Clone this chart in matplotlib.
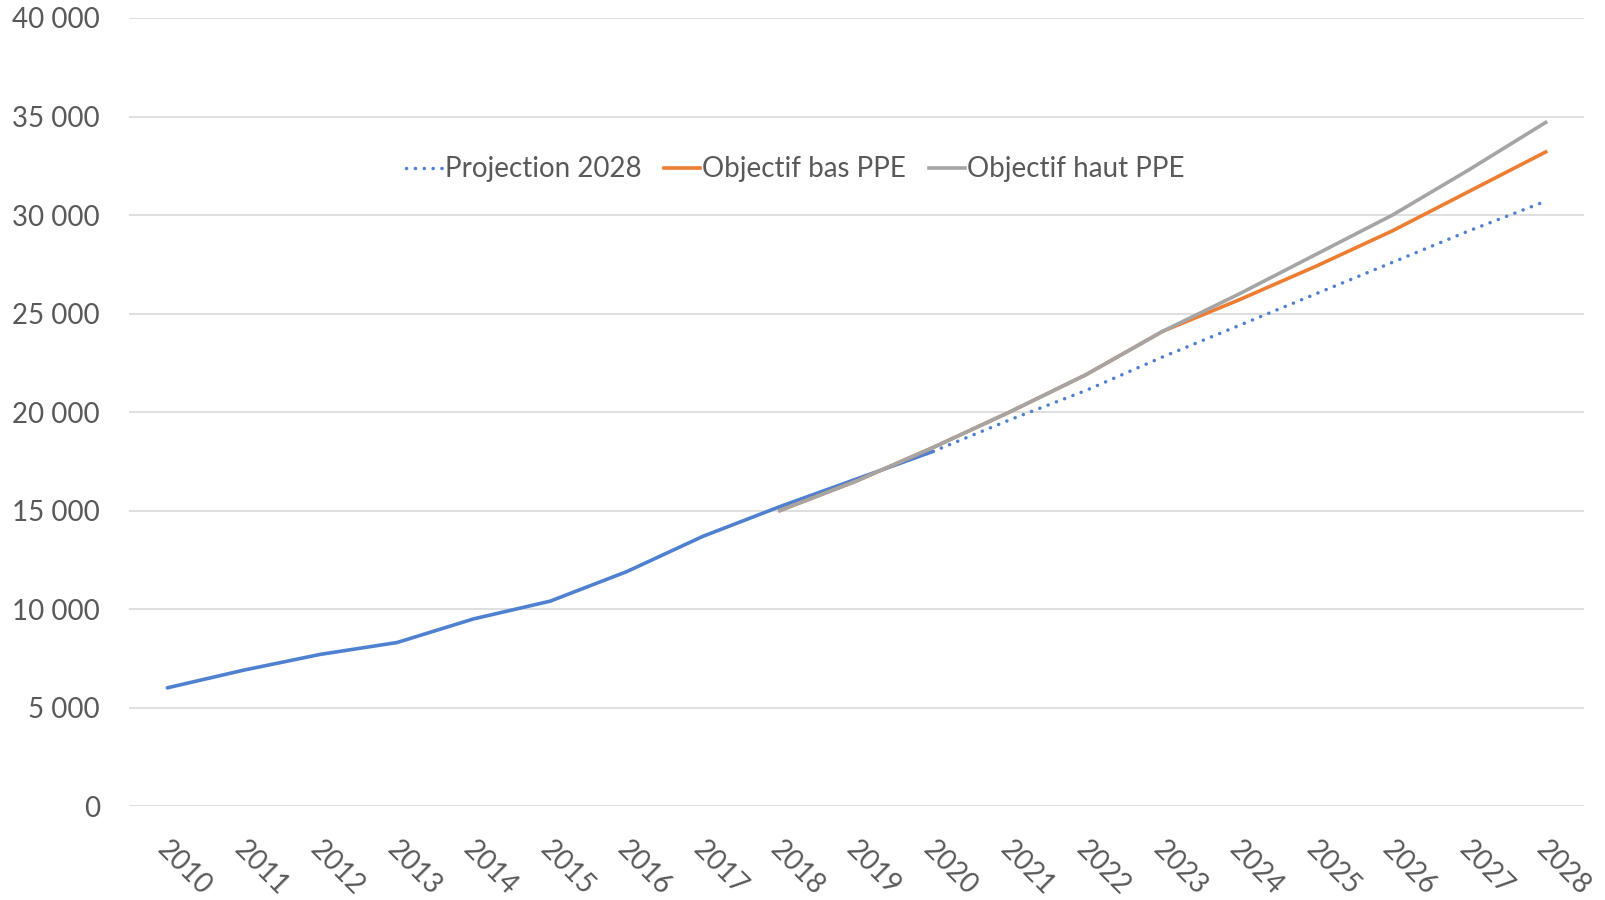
import matplotlib.pyplot as plt
from matplotlib.ticker import FuncFormatter
from matplotlib.transforms import ScaledTranslation

plt.rcParams['font.family'] = ['Lato', 'DejaVu Sans']

years = list(range(2010, 2029))

# historique 2010-2020
hist_years = list(range(2010, 2021))
hist_vals = [6000, 6900, 7700, 8300, 9500, 10400, 11900, 13700, 15200, 16600, 18000]

# projection tendancielle
proj_years = list(range(2020, 2029))
proj_vals = [18000, 19600, 21100, 22800, 24400, 26000, 27600, 29200, 30700]

# objectifs PPE
ppe_years = list(range(2018, 2029))
bas_vals = [15000, 16500, 18200, 20000, 21900, 24100, 25700, 27400, 29200, 31200, 33200]
haut_vals = [15000, 16500, 18200, 20000, 21900, 24100, 26000, 28000, 30000, 32300, 34700]

yticks = list(range(0, 40001, 5000))

text_col = '#595959'
grid_col = '#d9d9d9'

fig = plt.figure(figsize=(16.05, 9), dpi=100)
ax = fig.add_axes([0.0804, 0.1044, 0.9065, 0.8756])

ax.plot(hist_years, hist_vals, color='#4f81d0', lw=2.6, solid_capstyle='round', zorder=3)
ax.plot(proj_years, proj_vals, color='#4f81d0', lw=2.5, linestyle=(0, (0.05, 2.5)),
        dash_capstyle='round', label='Projection 2028', zorder=3)
ax.plot(ppe_years, bas_vals, color='#ed7d31', lw=2.6, label='Objectif bas PPE', zorder=4)
ax.plot(ppe_years, haut_vals, color='#a5a5a5', lw=2.6, label='Objectif haut PPE', zorder=5)

ax.set_xlim(2009.5, 2028.5)
ax.set_ylim(0, 40000)
ax.set_yticks(yticks)
ax.yaxis.set_major_formatter(FuncFormatter(lambda v, p: f'{int(v):,}'.replace(',', ' ')))
ax.set_xticks(years)
ax.set_xticklabels([str(y) for y in years], rotation=-45, ha='center', va='top')

ax.grid(axis='y', color=grid_col, lw=1.2)
ax.set_axisbelow(True)
for s in ax.spines.values():
    s.set_visible(False)
ax.tick_params(axis='both', length=0, colors=text_col, labelsize=20)
ax.tick_params(axis='y', pad=21)
ax.tick_params(axis='x', pad=22)

# labels des annees un peu decales vers la droite
shift = ScaledTranslation(17 / 100, 0, fig.dpi_scale_trans)
for lbl in ax.get_xticklabels():
    lbl.set_transform(lbl.get_transform() + shift)

leg = ax.legend(loc='center', bbox_to_anchor=(0.458, 0.808), ncol=3, frameon=False,
                fontsize=20, handlelength=1.3, handletextpad=0.1, columnspacing=0.8)
for t in leg.get_texts():
    t.set_color(text_col)

fig.savefig('out.png', dpi=100)
